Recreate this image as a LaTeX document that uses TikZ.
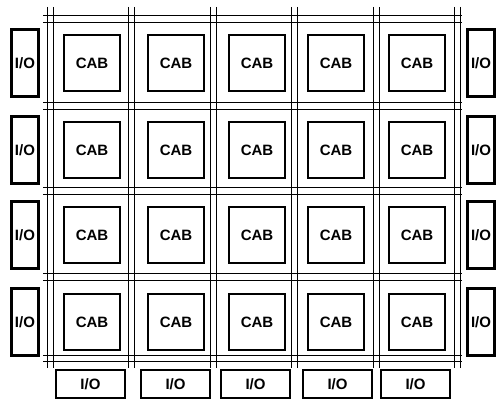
\documentclass[tikz,border=0pt]{standalone}
\usepackage{fontspec}
\setmainfont{Liberation Sans}
\usepackage{tikz}
\usetikzlibrary{positioning}

\begin{document}
\begin{tikzpicture}[x=1pt, y=-1pt,
    every node/.style={font=\fontsize{15}{17}\selectfont\bfseries},
    cab/.style={draw, line width=2.6pt, minimum width=56pt, minimum height=56pt, inner sep=0pt},
    io/.style={draw, line width=2.6pt, inner sep=0pt},
    wire/.style={line width=1pt}]
  \useasboundingbox (0,0) rectangle (496,403);
  % routing channels
  \foreach \i in {0,...,5} {
    \draw[wire] (47+\i*81.5,7) -- (47+\i*81.5,368);
    \draw[wire] (53+\i*81.5,7) -- (53+\i*81.5,368);
  }
  \foreach \y/\yy in {16/23,103/110,188/195,274/281,356/362} {
    \draw[wire] (43,\y) -- (462,\y);
    \draw[wire] (43,\yy) -- (462,\yy);
  }
  % CAB array with side I/O
  \foreach \r/\y in {1/63,2/150,3/235,4/322} {
    \foreach \c/\x in {1/92,2/176,3/257,4/336,5/417}
      \node[cab] (cab-\r-\c) at (\x,\y) {CAB};
    \node[io, minimum width=27pt, minimum height=67pt] (io-l\r) at (25,\y) {I/O};
    \node[io, minimum width=27pt, minimum height=67pt] (io-r\r) at (481,\y) {I/O};
  }
  % bottom I/O
  \foreach \c/\x in {1/90.5,2/175.5,3/255.5,4/337.5,5/415.5}
    \node[io, minimum width=69pt, minimum height=28pt] (io-b\c) at (\x,384) {I/O};
\end{tikzpicture}
\end{document}
